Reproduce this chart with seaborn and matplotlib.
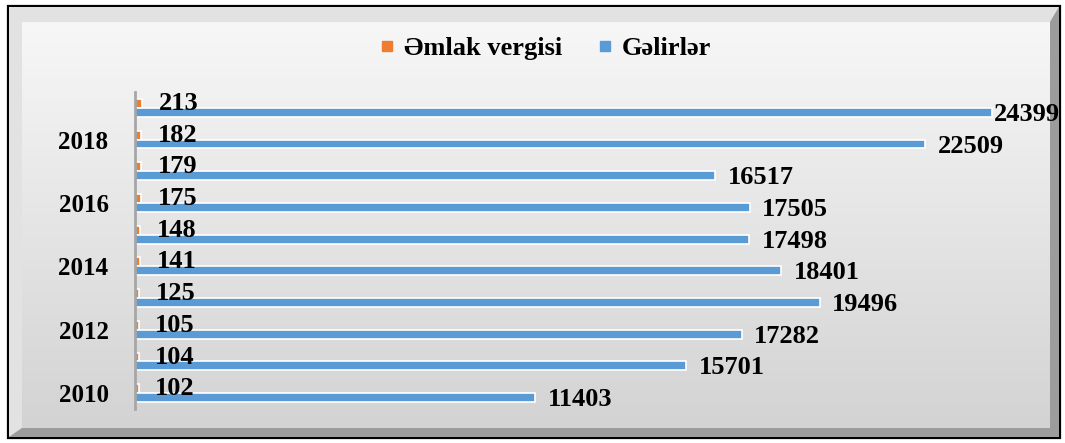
import numpy as np
import pandas as pd
import matplotlib
matplotlib.use("Agg")
import matplotlib.pyplot as plt
from matplotlib.patches import Rectangle, Polygon
from matplotlib.lines import Line2D
from matplotlib.colors import LinearSegmentedColormap
from matplotlib.font_manager import FontProperties
import seaborn as sns

# ---- data ----
years = ['2010', '2011', '2012', '2013', '2014', '2015', '2016', '2017', '2018', '2019']
emlak_vergisi = [102, 104, 105, 125, 141, 148, 175, 179, 182, 213]
gelirler = [11403, 15701, 17282, 19496, 18401, 17498, 17505, 16517, 22509, 24399]
series_names = ['Əmlak vergisi', 'Gəlirlər']
shown_year_labels = ['2010', '2012', '2014', '2016', '2018']

df = pd.DataFrame({
    'Il': years * 2,
    'Seriya': [series_names[0]] * len(years) + [series_names[1]] * len(years),
    'Deyer': emlak_vergisi + gelirler,
})

sns.set_theme(style='white')
SERIF = ['Liberation Serif', 'DejaVu Serif']
plt.rcParams['font.family'] = SERIF
plt.rcParams['font.weight'] = 'bold'

W, H = 1065, 443
fig = plt.figure(figsize=(W / 100, H / 100), dpi=100)
fig.patch.set_facecolor('white')

def fx(px):
    return px / W

def fy(py):
    return 1 - py / H

# outer frame + bevel
ov = fig.add_axes([0, 0, 1, 1], zorder=0)
ov.set_xlim(0, W)
ov.set_ylim(H, 0)
ov.axis('off')
ov.add_patch(Rectangle((8, 6), 1052, 432, facecolor='#c9c9c9', edgecolor='black', lw=1.6))
ov.add_patch(Polygon([(9, 7), (1059, 7), (1050, 22), (22, 22), (22, 428), (9, 437)],
                     closed=True, facecolor='#e2e2e2', edgecolor='none'))
ov.add_patch(Polygon([(9, 437), (22, 428), (1050, 428), (1050, 22), (1059, 7), (1059, 437)],
                     closed=True, facecolor='#9c9c9c', edgecolor='none'))

# inner gradient panel
bg = fig.add_axes([fx(22), fy(428), fx(1050 - 22), (428 - 22) / H], zorder=1)
grad = np.linspace(0, 1, 256).reshape(-1, 1)
cmap = LinearSegmentedColormap.from_list('g', ['#f7f7f7', '#d3d3d3'])
bg.imshow(grad, aspect='auto', cmap=cmap, extent=[0, 1, 1, 0])
bg.axis('off')

# main axes
ax = fig.add_axes([fx(135), fy(409), fx(1048 - 135), (409 - 92) / H], zorder=2)
ax.set_facecolor('none')
order = years[::-1]
sns.barplot(data=df, y='Il', x='Deyer', hue='Seriya', order=order, hue_order=series_names,
            palette=['#ED7D31', '#5B9BD5'], orient='h', width=0.56,
            edgecolor='white', linewidth=1.2, ax=ax, legend=False, saturation=1)

ax.set_xlim(0, 26000)
ax.set_xlabel('')
ax.set_ylabel('')
ax.set_xticks([])
ax.set_yticks(range(len(order)))
ax.set_yticklabels([y if y in shown_year_labels else '' for y in order],
                   fontsize=18, fontweight='bold', color='black', family=SERIF)
ax.tick_params(axis='y', length=0, pad=19)
for s in ['top', 'right', 'bottom']:
    ax.spines[s].set_visible(False)
ax.spines['left'].set_color('#a6a6a6')
ax.spines['left'].set_linewidth(2)

# data labels
offsets = [(12, 0), (9, -1.5)]
labels = []
for cont, (dx, dy) in zip(ax.containers, offsets):
    for p in cont:
        v = p.get_width()
        yc = p.get_y() + p.get_height() / 2
        t = ax.annotate(f'{int(round(v))}', xy=(v, yc), xytext=(dx, dy), textcoords='offset points',
                        ha='left', va='center', fontsize=19, fontweight='bold', color='black',
                        family=SERIF, annotation_clip=False)
        labels.append((t, dx, dy))

handles = [Line2D([0], [0], marker='s', linestyle='none', markersize=6.5,
                  markerfacecolor=c, markeredgecolor=c) for c in ['#ED7D31', '#5B9BD5']]
leg = fig.legend(handles, series_names, loc='center', bbox_to_anchor=(0.512, fy(48)), ncol=2,
                 frameon=False, prop=FontProperties(family=SERIF, weight='bold', size=19),
                 handletextpad=0.35, columnspacing=1.3, handlelength=0.6)
for t in leg.get_texts():
    t.set_fontfamily(SERIF)
    t.set_fontweight('bold')
    t.set_fontsize(19)
    t.set_color('black')

# keep labels inside the chart panel (like Excel does)
fig.canvas.draw()
renderer = fig.canvas.get_renderer()
limit = 1060
for t, dx, dy in labels:
    bb = t.get_window_extent(renderer)
    if bb.x1 > limit:
        shift_px = bb.x1 - limit
        t.set_position((dx - shift_px * 72 / 100, dy))

fig.savefig('out.png', dpi=100)
